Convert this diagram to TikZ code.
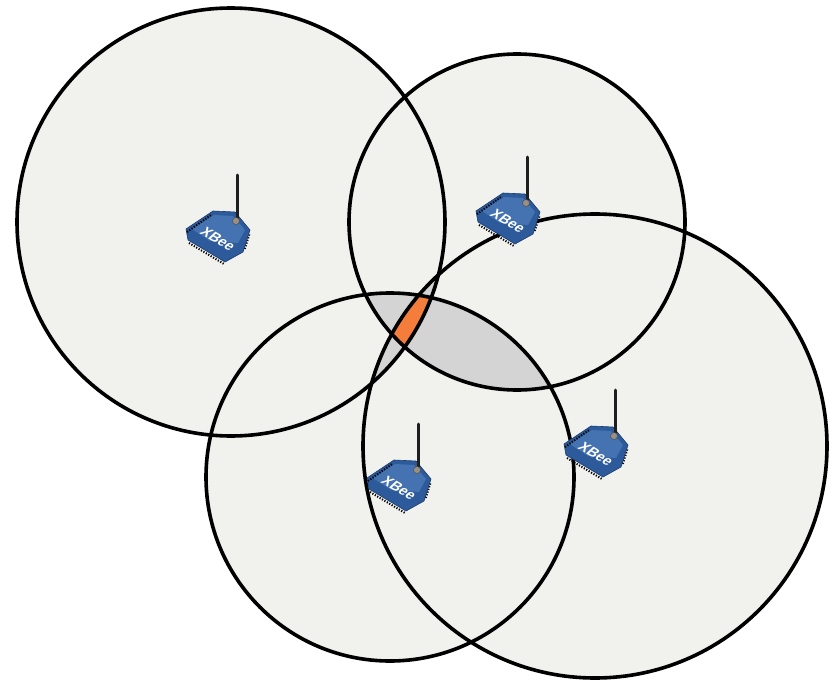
\documentclass[tikz,border=0pt]{standalone}
\usepackage{fontspec}
\setsansfont{Liberation Sans}
\begin{document}
\begin{tikzpicture}[x=1pt,y=-1pt,
  zonefill/.style={fill=zone},
  ring/.style={draw=black,line width=3.6pt},
  xbee/.pic={
    % board seen in perspective
    \fill[boardblue,draw=boarddark,line width=0.6pt]
      (-32,-6) -- (-5,-24) -- (17,-23) -- (32,-5) -- (25,17) -- (7,27) -- (-30,5) -- cycle;
    \fill[boardlight,opacity=0.55]
      (-26,-6) -- (-4,-20) -- (15,-19) -- (27,-5) -- (20,8) -- (-8,6) -- cycle;
    % header pins along the edges
    \draw[pin,line width=2pt,dash pattern=on 1.2pt off 1.6pt]
      (-29,8) -- (6,29);
    \draw[pin,line width=2pt,dash pattern=on 1.2pt off 1.6pt]
      (-31,-3) -- (-7,-20);
    \draw[pin,line width=1.6pt,dash pattern=on 1.2pt off 1.6pt]
      (27,14) -- (32,-2);
    % chip label
    \node[text=white,font=\sffamily\bfseries\fontsize{14}{14}\selectfont,
          rotate=-30,xslant=0.3,inner sep=0pt] at (0,4) {XBee};
    % antenna with its connector
    \draw[antenna,line width=3pt,line cap=round] (19,-60) -- (19,-17);
    \fill[connector,draw=gray!60!black,line width=0.5pt] (18,-14) circle (3.5);
  }]
\definecolor{zone}{HTML}{F1F1EE}
\definecolor{triple}{HTML}{D4D4D4}
\definecolor{quad}{HTML}{F47D3C}
\definecolor{boardblue}{HTML}{2C5A9A}
\definecolor{boarddark}{HTML}{1B3C70}
\definecolor{boardlight}{HTML}{5A87C4}
\definecolor{pin}{HTML}{B8C4D6}
\definecolor{antenna}{HTML}{1E1E1E}
\definecolor{connector}{HTML}{9A8F86}

\fill[white] (0,0) rectangle (839,680);
\useasboundingbox (0,0) rectangle (839,680);

% coverage circles
\coordinate (cA) at (231,222);
\coordinate (cB) at (517,222);
\coordinate (cC) at (595,446);
\coordinate (cD) at (390,477);
\def\rA{214}\def\rB{168}\def\rC{232}\def\rD{184}

\fill[zonefill] (cA) circle (\rA);
\fill[zonefill] (cB) circle (\rB);
\fill[zonefill] (cC) circle (\rC);
\fill[zonefill] (cD) circle (\rD);

% areas covered by three circles
\begin{scope}\clip (cA) circle (\rA); \clip (cB) circle (\rB); \fill[triple] (cC) circle (\rC);\end{scope}
\begin{scope}\clip (cA) circle (\rA); \clip (cB) circle (\rB); \fill[triple] (cD) circle (\rD);\end{scope}
\begin{scope}\clip (cA) circle (\rA); \clip (cC) circle (\rC); \fill[triple] (cD) circle (\rD);\end{scope}
\begin{scope}\clip (cB) circle (\rB); \clip (cC) circle (\rC); \fill[triple] (cD) circle (\rD);\end{scope}

% area covered by all four
\begin{scope}\clip (cA) circle (\rA); \clip (cB) circle (\rB); \clip (cC) circle (\rC); \fill[quad] (cD) circle (\rD);\end{scope}

\draw[ring] (cA) circle (\rA);
\draw[ring] (cB) circle (\rB);
\draw[ring] (cC) circle (\rC);
\draw[ring] (cD) circle (\rD);

% radio modules
\pic at (218,235) {xbee};
\pic at (508,217) {xbee};
\pic at (596,450) {xbee};
\pic at (399,484) {xbee};
\end{tikzpicture}
\end{document}
